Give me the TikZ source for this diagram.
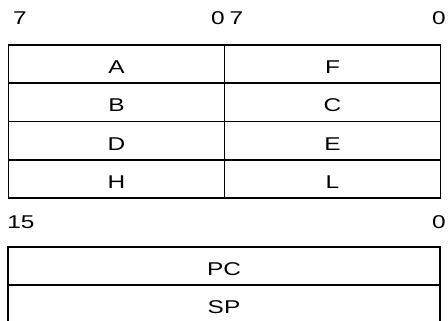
\documentclass[tikz,border=0pt]{standalone}
\usepackage{fontspec}
\setmainfont{Liberation Sans}[FakeStretch=1.32]
\usepackage{tikz}
\usetikzlibrary{positioning}
\definecolor{blackline}{HTML}{000000}
\tikzset{every node/.append style={font=\fontsize{18.5}{21}\selectfont,text=blackline}}
\tikzset{
  regcell/.style={draw=blackline,line width=1.6pt,inner sep=0pt,outer sep=0pt,
    minimum height=38.25pt,text height=19pt,text depth=0pt},
  halfcell/.style={regcell,minimum width=216pt},
  widecell/.style={regcell,minimum width=432pt},
  bitno/.style={inner sep=0pt}
}

\begin{document}
\begin{tikzpicture}[x=1pt,y=-1pt]
  \useasboundingbox (0,0) rectangle (448,321);
  \clip (0,0) rectangle (448,321);
  % 8-bit registers
  \node[bitno] (hmsb) at (20,18) {7};
  \node[bitno] (hlsb) at (218,18) {0};
  \node[bitno] (lmsb) at (236.5,18) {7};
  \node[bitno] (llsb) at (439,18) {0};
  \foreach \hi/\lo [count=\i] in {A/F,B/C,D/E,H/L}{
    \node[halfcell] (hi\i) at (116.5,{45+38.25*(\i-.5)}) {\hi};
    \node[halfcell,right=0pt of hi\i] (lo\i) {\lo};
  }
  % 16-bit registers
  \node[bitno] (wmsb) at (21,222) {15};
  \node[bitno] (wlsb) at (439,222) {0};
  \node[widecell] (pc) at (224,266.1) {PC};
  \node[widecell,below=0pt of pc] (sp) {SP};
\end{tikzpicture}
\end{document}
